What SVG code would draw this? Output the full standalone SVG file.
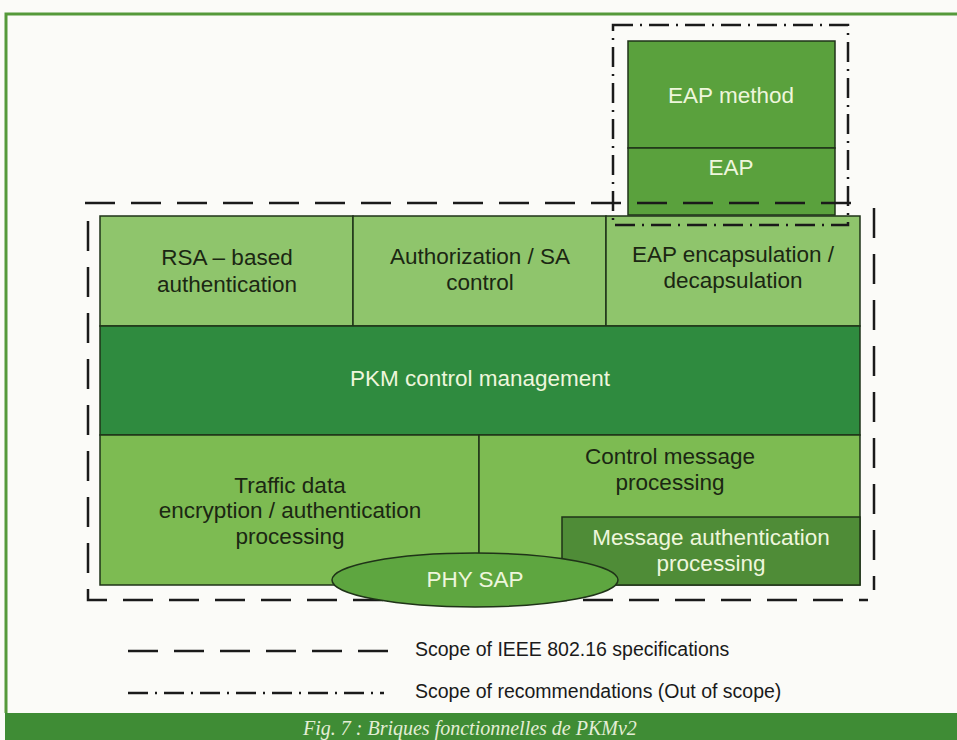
<svg xmlns="http://www.w3.org/2000/svg" width="957" height="740" viewBox="0 0 957 740">
<style>
.box{stroke:#1f3318;stroke-width:1.5}
.lt{fill:#8fc56c}
.md{fill:#7dbb52}
.dk{fill:#2f8b3f}
.eap{fill:#5aa13d}
.ma{fill:#4f8c37}
.t{font-family:"Liberation Sans",Arial,sans-serif;font-size:22.5px;text-anchor:middle}
.td{fill:#1b2713}
.tl{fill:#eef6dc}
.dash{fill:none;stroke:#1a1a1a;stroke-width:2.5;stroke-dasharray:30 16}
.dd{fill:none;stroke:#1a1a1a;stroke-width:2.5;stroke-dasharray:20 7 2 7}
.leg{font-family:"Liberation Sans",Arial,sans-serif;font-size:19.5px;fill:#1a1a1a}
</style>
<rect x="0" y="0" width="957" height="740" fill="#fbfbf8"/>
<g id="frame">
<path d="M6,713 V14 H957" fill="none" stroke="#55993a" stroke-width="3"/>
<rect x="5" y="713" width="952" height="27" fill="#3f8c35"/>
<text x="303" y="735" font-family="'Liberation Serif','Times New Roman',serif" font-style="italic" font-size="20" fill="#e4eed6">Fig. 7 : Briques fonctionnelles de PKMv2</text>
</g>
<g id="node-rsa">
<rect class="box lt" x="100" y="216" width="253" height="110"/>
<text class="t td" x="227" y="265">RSA – based</text>
<text class="t td" x="227" y="292">authentication</text>
</g>
<g id="node-auth">
<rect class="box lt" x="353" y="216" width="253" height="110"/>
<text class="t td" x="480" y="264">Authorization / SA</text>
<text class="t td" x="480" y="290">control</text>
</g>
<g id="node-eapencap">
<rect class="box lt" x="606" y="216" width="254" height="110"/>
<text class="t td" x="733" y="262">EAP encapsulation /</text>
<text class="t td" x="733" y="288">decapsulation</text>
</g>
<g id="node-pkm">
<rect class="box dk" x="100" y="326" width="760" height="109"/>
<text class="t tl" x="480" y="386">PKM control management</text>
</g>
<g id="node-traffic">
<rect class="box md" x="100" y="435" width="379" height="150"/>
<text class="t td" x="290" y="493">Traffic data</text>
<text class="t td" x="290" y="518">encryption / authentication</text>
<text class="t td" x="290" y="544">processing</text>
</g>
<g id="node-control">
<rect class="box md" x="479" y="435" width="381" height="150"/>
<text class="t td" x="670" y="464">Control message</text>
<text class="t td" x="670" y="490">processing</text>
</g>
<g id="node-msgauth">
<rect class="box ma" x="562" y="517" width="298" height="68"/>
<text class="t tl" x="711" y="545">Message authentication</text>
<text class="t tl" x="711" y="571">processing</text>
</g>
<g id="node-eapmethod">
<rect class="box eap" x="628" y="41" width="207" height="107"/>
<text class="t tl" x="731" y="103">EAP method</text>
</g>
<g id="node-eap">
<rect class="box eap" x="628" y="148" width="207" height="67"/>
<text class="t tl" x="731" y="175">EAP</text>
</g>
<g id="scope-ieee">
<line class="dash" x1="85" y1="203" x2="866" y2="203"/>
<line class="dash" x1="874" y1="208" x2="874" y2="590"/>
<path class="dash" d="M88,221 V600 H868"/>
</g>
<g id="node-physap">
<ellipse cx="475" cy="580" rx="143" ry="27" fill="#5ea640" stroke="#1f3318" stroke-width="1.5"/>
<text class="t tl" x="475" y="587" font-size="19">PHY SAP</text>
</g>
<g id="scope-recommendations">
<rect class="dd" x="613" y="25" width="235" height="200"/>
</g>
<g id="legend">
<line class="dash" x1="128" y1="651" x2="388" y2="651"/>
<text class="leg" x="415" y="656">Scope of IEEE 802.16 specifications</text>
<line class="dd" x1="128" y1="693" x2="384" y2="693"/>
<text class="leg" x="415" y="698">Scope of recommendations (Out of scope)</text>
</g>
</svg>
